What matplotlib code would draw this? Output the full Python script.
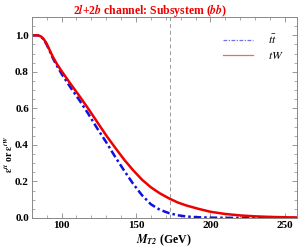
import numpy as np
import matplotlib
matplotlib.use("Agg")
import matplotlib.pyplot as plt
from matplotlib.ticker import MultipleLocator

plt.rcParams['mathtext.fontset'] = 'stix'
plt.rcParams['font.family'] = ['Liberation Serif', 'DejaVu Serif']

mt2_tw = [80, 84, 86, 88, 90, 92, 94, 97, 100, 106, 112, 118, 124, 130, 136, 142,
          148, 154, 160, 166, 172, 178, 184, 192, 200, 210, 220, 230, 240, 250, 258]
eff_tw = [1.0, 1.0, 0.995, 0.98, 0.955, 0.92, 0.885, 0.842, 0.805, 0.735, 0.668, 0.598,
          0.525, 0.452, 0.385, 0.32, 0.262, 0.21, 0.168, 0.135, 0.108, 0.085, 0.068,
          0.05, 0.034, 0.022, 0.014, 0.009, 0.006, 0.004, 0.003]

mt2_tt = [80, 84, 86, 88, 90, 92, 94, 97, 100, 106, 112, 118, 124, 130, 136, 142,
          148, 154, 160, 166, 172, 178, 184, 192, 200, 210, 220, 258]
eff_tt = [1.0, 1.0, 0.995, 0.978, 0.95, 0.915, 0.878, 0.832, 0.79, 0.715, 0.645, 0.57,
          0.49, 0.415, 0.335, 0.26, 0.188, 0.125, 0.075, 0.045, 0.027, 0.015, 0.008,
          0.004, 0.002, 0.001, 0.0005, 0.0]

mtop = 173

fig = plt.figure(figsize=(3.0, 2.49), dpi=100)
ax = fig.add_axes([0.1057, 0.1245, 0.884, 0.807])

ax.plot(mt2_tt, eff_tt, color='#1010e0', lw=1.8, linestyle=(0, (3, 1.2, 1, 1.2)),
        label=r'$t\bar{t}$')
ax.plot(mt2_tw, eff_tw, color='#ee0000', lw=1.8, label=r'$tW$')
ax.axvline(mtop, color='#999999', lw=0.7, linestyle=(0, (4, 3)))

ax.set_xlim(80, 258)
ax.set_ylim(0, 1.1)
ax.xaxis.set_major_locator(MultipleLocator(50))
ax.xaxis.set_minor_locator(MultipleLocator(10))
ax.yaxis.set_major_locator(MultipleLocator(0.2))
ax.yaxis.set_minor_locator(MultipleLocator(0.05))
ax.tick_params(which='both', direction='in', top=True, right=True, color='#888888',
               labelsize=8, pad=2)
ax.tick_params(which='major', length=3.5, width=0.6)
ax.tick_params(which='minor', length=2, width=0.5)
for lbl in ax.get_xticklabels() + ax.get_yticklabels():
    lbl.set_fontweight('bold')
for s in ax.spines.values():
    s.set_color('#888888')
    s.set_linewidth(0.7)

ax.set_xlabel(r'$\mathbfit{M}_{\mathbfit{T2}}$ (GeV)', fontsize=8.5, fontweight='bold', labelpad=2)
ax.set_ylabel(r'$\mathbf{\epsilon}^{\mathbfit{tt}}$ or $\mathbf{\epsilon}^{\mathbfit{tW}}$',
              fontsize=7, fontweight='bold')
ax.yaxis.set_label_coords(-0.064, 0.32)
fig.suptitle(r'2$\mathbfit{l}$+2$\mathbfit{b}$ channel: Subsystem ($\mathbfit{bb}$)',
             color='#ee0000', fontsize=8.5, fontweight='bold', y=0.99)

leg = ax.legend(loc='upper right', frameon=False, fontsize=8.5, handlelength=2.6,
                borderaxespad=0.4, handletextpad=1.2, labelspacing=0.3,
                bbox_to_anchor=(0.985, 0.965))
for h in leg.get_lines():
    h.set_linewidth(0.9)
    h.set_alpha(0.6)

fig.savefig('out.png', dpi=100)
